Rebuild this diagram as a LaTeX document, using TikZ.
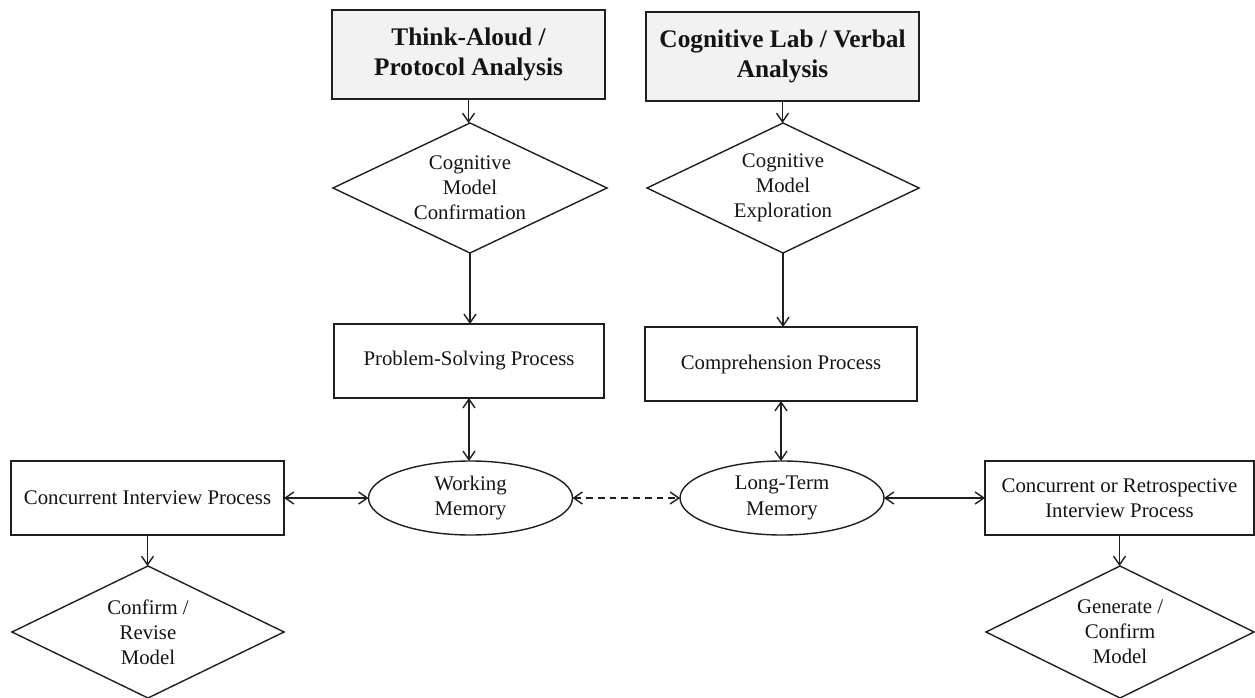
\documentclass[tikz,border=0pt]{standalone}
\usepackage{fontspec}
\setmainfont{Liberation Serif}
\usetikzlibrary{shapes.geometric,arrows.meta}

\definecolor{inkline}{HTML}{1F1F1F}
\definecolor{inktext}{HTML}{141414}
\definecolor{headfill}{HTML}{F2F2F2}

\tikzset{
  base/.style={draw=inkline, line width=1.05pt, text=inktext, outer sep=0pt,
               inner sep=0pt, align=center,
               font=\fontsize{15.6pt}{18.9pt}\selectfont},
  headbox/.style={base, rectangle, fill=headfill, minimum width=204.75pt,
               minimum height=66.75pt,
               font=\fontsize{19pt}{22.8pt}\selectfont\bfseries},
  procbox/.style={base, rectangle, minimum height=55.5pt},
  decision/.style={base, diamond, shape aspect=2.1},
  memory/.style={base, ellipse, minimum width=153pt, minimum height=55.5pt},
  tip/.style={Straight Barb[length=6.5pt,width=9pt,line width=1.05pt]},
  link/.style={draw=inkline, line width=1.05pt, arrows={-Straight Barb[length=6.5pt,width=9pt,line width=1.05pt]}},
  duplex/.style={draw=inkline, line width=1.05pt,
               arrows={Straight Barb[length=6.5pt,width=9pt,line width=1.05pt]-Straight Barb[length=6.5pt,width=9pt,line width=1.05pt]}},
}

\begin{document}
\begin{tikzpicture}[x=0.75pt, y=-0.75pt]
  \useasboundingbox (0,0) rectangle (1255,698);

  % method headers
  \node[headbox] (tap) at (468.5,54.5) {Think-Aloud /\\Protocol Analysis};
  \node[headbox] (clv) at (782.5,56.5) {Cognitive Lab / Verbal\\Analysis};

  % model decisions
  \node[decision, minimum width=205.5pt, minimum height=97.5pt] (cmc) at (470,188)
    {Cognitive\\Model\\Confirmation};
  \node[decision, minimum width=204pt, minimum height=97.5pt] (cme) at (783,188)
    {Cognitive\\Model\\Exploration};

  % processes
  \node[procbox, minimum width=202.5pt] (psp) at (469,361) {Problem-Solving Process};
  \node[procbox, minimum width=204pt] (cpp) at (781,364) {Comprehension Process};

  % memory
  \node[memory] (wm) at (470.5,498) {Working\\Memory};
  \node[memory] (ltm) at (782,498) {Long-Term\\Memory};

  % interviews
  \node[procbox, minimum width=204.75pt] (cip) at (147.5,498) {Concurrent Interview Process};
  \node[procbox, minimum width=201.75pt] (rip) at (1119.5,498)
    {Concurrent or Retrospective\\Interview Process};

  % outcomes
  \node[decision, minimum width=204pt, minimum height=99pt] (crm) at (148,632)
    {Confirm /\\Revise\\Model};
  \node[decision, minimum width=201pt, minimum height=99pt] (gcm) at (1120,632)
    {Generate /\\Confirm\\Model};

  % connectors
  \draw[link] (tap.south) -- (tap.south |- cmc.north);
  \draw[link] (clv.south) -- (clv.south |- cme.north);
  \draw[link] (cmc.south) -- (cmc.south |- psp.north);
  \draw[link] (cme.south) -- (cme.south |- cpp.north);
  \draw[duplex] (psp.south) -- (psp.south |- wm.north);
  \draw[duplex] (cpp.south) -- (cpp.south |- ltm.north);
  \draw[duplex] (cip.east) -- (wm.west);
  \draw[duplex, dash pattern=on 5pt off 3.8pt] (wm.east) -- (ltm.west);
  \draw[duplex] (ltm.east) -- (rip.west);
  \draw[link] (cip.south) -- (cip.south |- crm.north);
  \draw[link] (rip.south) -- (rip.south |- gcm.north);
\end{tikzpicture}
\end{document}
